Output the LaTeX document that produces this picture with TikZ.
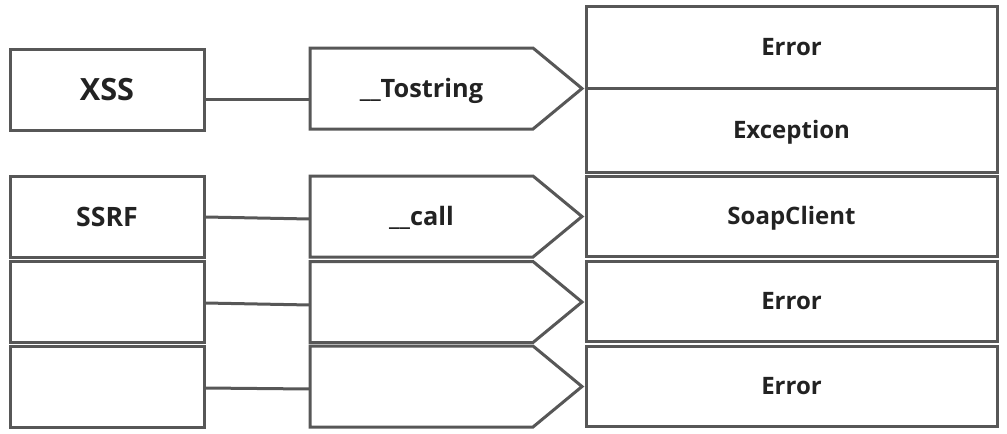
\documentclass[tikz,border=0pt]{standalone}
\usepackage{fontspec}
\setmainfont{Open Sans}
\usepackage{tikz}
\definecolor{edgegray}{HTML}{575757}
\definecolor{textgray}{HTML}{222222}
\tikzstyle{cell}=[draw=edgegray, line width=2.25pt, inner sep=0pt, text=textgray, text depth=0pt, text height=12.85pt, font=\bfseries\fontsize{18}{20}\selectfont]
\tikzstyle{lcell}=[cell, minimum width=145.5pt, minimum height=60.75pt]
\tikzstyle{mcell}=[cell, draw=none, outer sep=0pt, minimum width=167.25pt, minimum height=60.75pt, text height=13.6pt, font=\bfseries\fontsize{19}{21}\selectfont]
\tikzstyle{rcell}=[cell, minimum width=308.25pt, minimum height=60pt]
\tikzstyle{link}=[draw=edgegray, line width=2.25pt]

\begin{document}
\begin{tikzpicture}[x=0.75pt, y=-0.75pt]
        \useasboundingbox (0,0) rectangle (1007,433);
        % left column
        \node[lcell, text height=16.4pt, font=\bfseries\fontsize{23}{25}\selectfont] (xss) at (107,90) {XSS};
        \node[lcell, text height=14.3pt, font=\bfseries\fontsize{20}{22}\selectfont] (ssrf) at (107,216.5) {SSRF};
        \node[lcell] (blanka) at (107,302) {};
        \node[lcell] (blankb) at (107,386.5) {};
        % middle column
        \node[mcell] (tostr) at (421.5,88.5) {\_\_Tostring};
        \node[mcell] (call)  at (421.5,216.5) {\_\_call};
        \node[mcell] (mida)  at (421.5,302) {};
        \node[mcell] (midb)  at (421.5,386.5) {};
        \draw[link] (tostr.south west) -- (tostr.north west) -- (tostr.north east) -- ++(49,40.5) -- (tostr.south east) -- cycle;
        \draw[link] (call.south west) -- (call.north west) -- (call.north east) -- ++(49,40.5) -- (call.south east) -- cycle;
        \draw[link] (mida.south west) -- (mida.north west) -- (mida.north east) -- ++(49,40.5) -- (mida.south east) -- cycle;
        \draw[link] (midb.south west) -- (midb.north west) -- (midb.north east) -- ++(49,40.5) -- (midb.south east) -- cycle;
        % right column
        \node[rcell, minimum height=61.5pt] (err)  at (791.5,47) {Error};
        \node[rcell, minimum height=63pt]   (exc)  at (791.5,130) {Exception};
        \node[rcell] (soap) at (791.5,216) {SoapClient};
        \node[rcell] (erra) at (791.5,301) {Error};
        \node[rcell] (errb) at (791.5,386) {Error};
        % links
        \draw[link] (xss.east |- 0,99) -- (tostr.west |- 0,99);
        \draw[link] (ssrf.east |- 0,217) -- (call.west |- 0,219);
        \draw[link] (blanka.east |- 0,303) -- (mida.west |- 0,305);
        \draw[link] (blankb.east |- 0,388) -- (midb.west |- 0,389);
    \end{tikzpicture}
\end{document}
